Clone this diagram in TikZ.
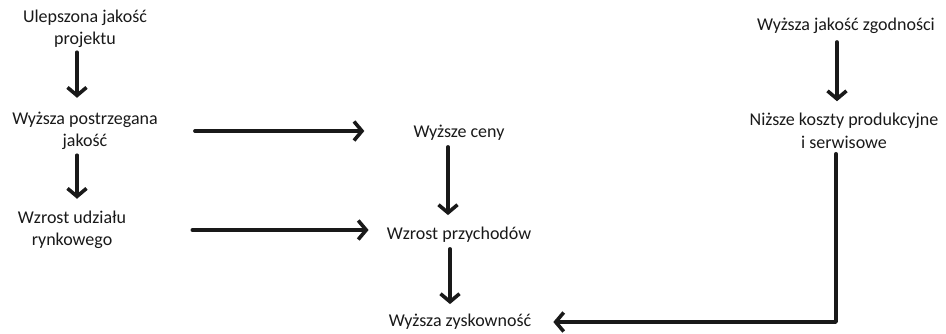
\documentclass[tikz,border=0pt]{standalone}
\usepackage{fontspec}
\setmainfont{Carlito}
\usetikzlibrary{arrows.meta}
\begin{document}
\begin{tikzpicture}[x=1pt, y=-1pt, line cap=round, line join=round]
\tikzset{
    label/.style={align=center, inner sep=0pt, text=black!90, font=\fontsize{18}{22.5}\selectfont},
    flow/.style={draw=black!90, line width=3.6pt, -{Straight Barb[length=8pt, width=19pt, line width=3.6pt]}}
}
\useasboundingbox (0,0) rectangle (946,333);
\node[label] (design) at (85,29) {Ulepszona jakość\\projektu};
\node[label] (perceived) at (85,131) {Wyższa postrzegana\\jakość};
\node[label] (share) at (72,230) {Wzrost udziału\\rynkowego};
\node[label] (prices) at (459,133) {Wyższe ceny};
\node[label] (revenue) at (459,235) {Wzrost przychodów};
\node[label] (profit) at (460,322) {Wyższa zyskowność};
\node[label] (conform) at (846,26) {Wyższa jakość zgodności};
\node[label] (costs) at (844,131) {Niższe koszty produkcyjne\\i serwisowe};
\draw[flow, shorten <=4pt, shorten >=14pt]
([xshift=-8pt]design.south) -- ([xshift=-8pt]design.south |- perceived.north);
\draw[flow, shorten <=5pt, shorten >=12pt]
([xshift=-8pt]perceived.south) -- ([xshift=-8pt]perceived.south |- share.north);
\draw[flow, shorten <=37pt, shorten >=49pt]
(perceived.east) -- (perceived.east -| prices.west);
\draw[flow, shorten <=66pt, shorten >=18pt]
(share.east) -- (share.east -| revenue.west);
\draw[flow, shorten <=6pt, shorten >=12pt]
([xshift=-11pt]prices.south) -- ([xshift=-11pt]prices.south |- revenue.north);
\draw[flow, shorten <=6pt, shorten >=10pt]
([xshift=-9pt]revenue.south) -- ([xshift=-9pt]revenue.south |- profit.north);
\draw[flow, shorten <=8pt, shorten >=12pt]
([xshift=-9pt]conform.south) -- ([xshift=-9pt]conform.south |- costs.north);
\draw[flow, shorten <=5pt, shorten >=22pt]
([xshift=-8pt]costs.south) |- (profit.east);
\end{tikzpicture}
\end{document}
